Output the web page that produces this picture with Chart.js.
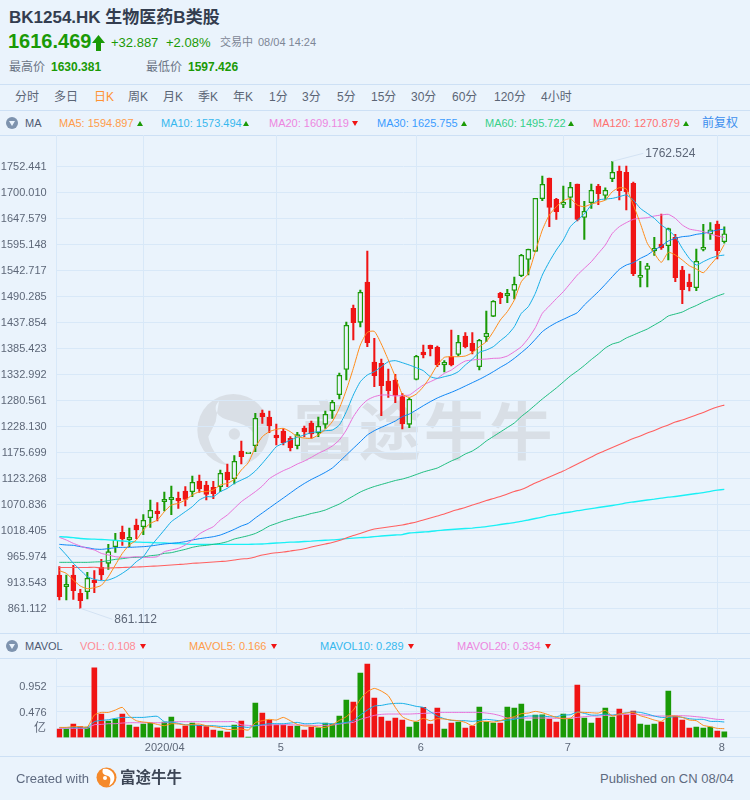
<!DOCTYPE html>
<html>
<head>
<meta charset="utf-8">
<title>BK1254.HK</title>
<script src="https://cdn.jsdelivr.net/npm/chart.js@4"></script>
<style>
  html, body { margin: 0; padding: 0; }
  body { width: 750px; height: 800px; background: #eaf3fc; position: relative; overflow: hidden;
    font-family: "Liberation Sans", "Noto Sans CJK SC", sans-serif; color: #5d6778; }
  .t { position: absolute; white-space: nowrap; line-height: 1; }
  .rule { position: absolute; left: 0; width: 750px; height: 1px; background: #cde0f5; }
  canvas { position: absolute; left: 0; }
  .tri { position: absolute; width: 0; height: 0; border-left: 3.5px solid transparent; border-right: 3.5px solid transparent; }
  .up { border-bottom: 5px solid #1a9a06; }
  .down { border-top: 5px solid #f01414; }
  .ico { position: absolute; left: 6px; width: 12px; height: 12px; border-radius: 50%; background: #7e93ae; }
  .ico:after { content: ''; position: absolute; left: 2.5px; top: 4px; border-left: 3.5px solid transparent;
    border-right: 3.5px solid transparent; border-top: 5px solid #eaf3fc; }
</style>
</head>
<body>
<svg style="position:absolute;left:195px;top:385px" width="100" height="90" viewBox="0 0 300 270">
  <circle cx="115" cy="135" r="108" fill="#d9dfe6"/>
  <path d="M72 48 C52 68 62 95 100 105 C150 118 185 130 178 175 C172 215 150 240 130 250 C88 244 50 205 40 155 L 62 110 Z" fill="#eaf3fc"/>
  <circle cx="118" cy="147" r="17" fill="#d9dfe6"/>
</svg>
<div class="t" style="left:293px;top:401px;font-size:63px;letter-spacing:2.5px;color:#d9dfe6;font-weight:700">富途牛牛</div>

<div class="t" style="left:9px;top:9px;font-size:17px;font-weight:700;color:#333d4f">BK1254.HK 生物医药B类股</div>
<div class="t" style="left:8px;top:31px;font-size:20px;font-weight:700;color:#1a9a06">1616.469</div>
<svg style="position:absolute;left:92px;top:35px" width="13" height="16" viewBox="0 0 13 16"><path d="M6.5 0 L13 8 L9 8 L9 16 L4 16 L4 8 L0 8 Z" fill="#1a9a06"/></svg>
<div class="t" style="left:111px;top:36px;font-size:13px;color:#1a9a06">+32.887</div>
<div class="t" style="left:166px;top:36px;font-size:13px;color:#1a9a06">+2.08%</div>
<div class="t" style="left:220px;top:37px;font-size:11px;color:#7d8696">交易中</div>
<div class="t" style="left:258px;top:37px;font-size:11px;color:#7d8696">08/04 14:24</div>
<div class="t" style="left:9px;top:61px;font-size:12px;color:#6a7484">最高价</div>
<div class="t" style="left:51px;top:61px;font-size:12px;font-weight:700;color:#1a9a06">1630.381</div>
<div class="t" style="left:146px;top:61px;font-size:12px;color:#6a7484">最低价</div>
<div class="t" style="left:188px;top:61px;font-size:12px;font-weight:700;color:#1a9a06">1597.426</div>

<div class="rule" style="top:84px"></div>
<div id="tabs"></div>
<div class="rule" style="top:110px"></div>

<div class="ico" style="top:117px"></div>
<div class="t" style="left:25px;top:118px;font-size:11px;color:#4e5a72">MA</div>
<div id="ma-row"></div>
<div class="t" style="left:702px;top:117px;font-size:12px;color:#3d8fee">前复权</div>
<div class="rule" style="top:135px"></div>

<canvas id="chart-main" width="750" height="498" style="top:135px"></canvas>

<div class="rule" style="top:633px"></div>
<div class="ico" style="top:640px"></div>
<div class="t" style="left:25px;top:641px;font-size:11px;color:#4e5a72">MAVOL</div>
<div id="vol-row"></div>
<div class="rule" style="top:658px"></div>

<canvas id="chart-vol" width="750" height="98" style="top:658px"></canvas>
<div class="t" style="left:34px;top:722px;font-size:12px;color:#5d6778">亿</div>

<div class="rule" style="top:756px"></div>
<div class="t" style="left:16px;top:772px;font-size:13px;color:#5e6a80">Created with</div>
<svg style="position:absolute;left:96px;top:767px" width="21" height="21" viewBox="0 0 21 21">
  <circle cx="10.5" cy="10.5" r="10" fill="#f5892a"/>
  <path d="M7 2 C5 7 9 8 12 9 C15 10 15 14 13 19 C18 16 20 11 17 6 C15 3 11 1 7 2 Z" fill="#fff"/>
  <circle cx="9" cy="11" r="2" fill="#fff"/>
</svg>
<div class="t" style="left:120px;top:770px;font-size:15.5px;font-weight:700;color:#3d4656">富途牛牛</div>
<div class="t" style="left:600px;top:772px;font-size:13px;color:#5e6a80">Published on CN 08/04</div>

<script>
const BG = '#eaf3fc', GRID = '#d8e8f8', TICK = '#5d6778';
const UP = '#1a9a06', DOWN = '#f01414';

const tabs = ['分时', '多日', '日K', '周K', '月K', '季K', '年K', '1分', '3分', '5分', '15分', '30分', '60分', '120分', '4小时'];
const tabX = [15, 54, 94, 128, 163, 198, 233, 269, 302, 337, 371, 411, 452, 494, 541];

const opens = [
  928.3, 904.7, 928.3, 891.3, 894.6, 918.2, 943.7, 951.8, 985.4, 1014.3,
  999.5, 1029.1, 1025.7, 1043.9, 1057.3, 1076.1, 1080.2, 1082.9, 1097.7, 1096.3,
  1117.8, 1109.8, 1105, 1106.4, 1136, 1122.5, 1178.3, 1172.9, 1189, 1254.9,
  1246.9, 1210.6, 1218.6, 1203.8, 1189, 1224.7, 1234.8, 1214.6, 1232.1, 1259.6,
  1291.9, 1343, 1466, 1437.8, 1519.1, 1357.8, 1355.1, 1319.5, 1321.5, 1287.9,
  1232.1, 1322.8, 1377.9, 1391.4, 1387.3, 1351.7, 1368.5, 1373.2, 1410.2, 1395.4,
  1348.4, 1408.9, 1449.9, 1496.3, 1491.5, 1502.3, 1531.9, 1564.8, 1581, 1687.2,
  1728.8, 1685.8, 1675.7, 1689.8, 1716.7, 1649.5, 1679.1, 1712.7, 1693.9, 1727.5,
  1743, 1740.3, 1718.1, 1528.5, 1544.6, 1581.6, 1595.7, 1592.4, 1609.2, 1543.3,
  1519.1, 1507.7, 1585, 1615.9, 1636.1, 1600.4];
const closes = [
  884.6, 909.4, 896.7, 876.5, 921.5, 912.8, 928.3, 975.3, 998.8, 1000.9,
  1004.2, 1019, 1038.5, 1058.7, 1051.9, 1080.8, 1084.9, 1077.5, 1080.8, 1115.1,
  1101.7, 1090.9, 1092.3, 1133.3, 1119.8, 1157.5, 1166.9, 1174.3, 1244.2, 1247.5,
  1228.7, 1204.5, 1195.1, 1185, 1211.2, 1216.6, 1212.6, 1228, 1252.2, 1276.4,
  1330.9, 1431.7, 1437.1, 1498.3, 1396.8, 1330.2, 1310, 1300, 1290.6, 1232.8,
  1282.5, 1369.2, 1371.9, 1384.7, 1351.7, 1357.1, 1351.7, 1397.4, 1388.7, 1380,
  1401.5, 1415.6, 1480.1, 1487.5, 1496.3, 1514.4, 1572.9, 1585, 1687.8, 1716.1,
  1669.7, 1660.9, 1679.8, 1710, 1645.5, 1661.6, 1704, 1697.2, 1704, 1740.3,
  1703.3, 1701.3, 1535.9, 1532.6, 1552, 1587, 1587.7, 1626.7, 1527.8, 1503.6,
  1509.7, 1560.8, 1589, 1624.6, 1582.3, 1616.469];
const highs = [
  945.1, 928.3, 947.8, 899.4, 933.6, 937, 959.9, 990.1, 1012.3, 1027.1,
  1023, 1041.2, 1049.9, 1079.5, 1074.1, 1095.6, 1107.7, 1095.6, 1106.4, 1127.9,
  1129.9, 1117.1, 1117.1, 1140, 1152.1, 1168.9, 1198.5, 1174.3, 1254.3, 1261,
  1259, 1232.7, 1223.3, 1207.2, 1215.9, 1228.7, 1238.8, 1246.9, 1259, 1280.5,
  1335.6, 1438.4, 1472.7, 1503, 1581.6, 1405.5, 1363.8, 1343.7, 1332.9, 1294.6,
  1285.8, 1371.2, 1392.1, 1392.1, 1390, 1360.5, 1422.3, 1411.6, 1416.9, 1416.9,
  1403.5, 1460.6, 1481.5, 1498.3, 1504.3, 1529.2, 1574.9, 1585.7, 1687.8, 1732.9,
  1728.8, 1687.8, 1712.7, 1720.1, 1716.7, 1681.8, 1716.7, 1716.1, 1709.3, 1762.524,
  1753, 1753, 1720.8, 1560.8, 1556.8, 1609.2, 1656.2, 1628, 1615.2, 1550.7,
  1535.2, 1585.7, 1635.4, 1638.8, 1642.1, 1630.381];
const lows = [
  877.8, 877.8, 879.2, 861.112, 879.9, 892.6, 918.2, 939.7, 974, 988.1,
  985.4, 1001.5, 1009.6, 1024.4, 1037.2, 1057.3, 1049.9, 1062.7, 1067.4, 1086.2,
  1095, 1079.5, 1082.2, 1096.3, 1106.4, 1111.8, 1152.1, 1172.9, 1177, 1234.1,
  1215.3, 1190.4, 1190.4, 1178.3, 1182.3, 1207.2, 1203.8, 1207.2, 1224, 1244.2,
  1283.2, 1321.5, 1402.1, 1428.4, 1388.7, 1308, 1249.6, 1286.5, 1275.8, 1222.7,
  1225.4, 1321.5, 1365.8, 1369.9, 1348.4, 1338, 1349.7, 1369.9, 1386, 1373.9,
  1341.6, 1398.8, 1449.2, 1475.4, 1477.4, 1484.8, 1529.9, 1533.2, 1580.3, 1683.1,
  1630.7, 1645.5, 1669, 1669, 1642.1, 1605.2, 1667.7, 1675.1, 1684.5, 1721.4,
  1684.5, 1664.3, 1531.9, 1509, 1509, 1572.9, 1585, 1563.5, 1519.8, 1475.4,
  1501, 1501.6, 1581.6, 1605.2, 1565.5, 1597.426];

const ma5 = [
  937, 931.6, 918.2, 906.1, 900.7, 902.7, 907.4, 924.9, 948.4, 971.9,
  988.8, 998.8, 1019, 1032.4, 1039.2, 1056, 1069.4, 1072.8, 1079.5, 1089.6,
  1096.3, 1096.3, 1099.7, 1109.8, 1113.1, 1121.2, 1140, 1154.8, 1185.7, 1207.2,
  1217.3, 1222, 1224, 1217.3, 1207.2, 1204.5, 1203.8, 1210.6, 1222, 1237.5,
  1264.3, 1301.3, 1345, 1392.1, 1417.6, 1419.6, 1394.1, 1361.8, 1328.2, 1293.2,
  1286.5, 1293.2, 1308, 1328.2, 1351.7, 1367.2, 1368.5, 1368.5, 1369.9, 1376.6,
  1388.7, 1398.8, 1419, 1442.5, 1459.3, 1482.8, 1519.8, 1536.6, 1580.3, 1624,
  1654.2, 1671, 1683.1, 1687.2, 1674.4, 1671, 1676.4, 1679.8, 1684.5, 1701.3,
  1709.3, 1706.7, 1674.4, 1637.4, 1597.1, 1576.9, 1558.8, 1578.9, 1573.6, 1563.5,
  1552, 1545.3, 1537.9, 1553.4, 1570.2, 1594.897];
const ma10 = [
  984, 968.6, 951.8, 938.4, 924.9, 919.5, 916.8, 918.2, 923.5, 931.7,
  941.7, 955.1, 965.2, 985.4, 1002.2, 1019, 1035.8, 1045.9, 1056, 1066.1,
  1079.5, 1086.2, 1086.2, 1096.3, 1103, 1113.1, 1119.8, 1126.6, 1138, 1153.4,
  1170.2, 1187, 1193.8, 1200.5, 1205.9, 1210.6, 1215.3, 1217.3, 1219.3, 1220.6,
  1230.7, 1257.6, 1291.2, 1318.1, 1331.6, 1338.3, 1348.4, 1358.4, 1360.5, 1356.4,
  1351.7, 1346.3, 1340.3, 1328.2, 1324.8, 1328.2, 1331.6, 1338.3, 1351.7, 1363.2,
  1377.3, 1382, 1388.7, 1400.8, 1412.2, 1429, 1455.9, 1469.4, 1496.3, 1533.2,
  1560.1, 1583.6, 1603.8, 1630.7, 1644.1, 1656.2, 1674.4, 1684.5, 1686.5, 1687.8,
  1691.2, 1694.6, 1684.5, 1667.7, 1657.6, 1647.5, 1634.1, 1624, 1610.5, 1587,
  1566.8, 1553.4, 1560.1, 1566.8, 1571.5, 1573.494];
const ma20 = [
  1004.2, 998.8, 992.1, 986.7, 982, 978.7, 971.9, 968.6, 965.2, 963.9,
  963.9, 965.2, 963.9, 963.9, 965.2, 975.3, 978.7, 982, 988.8, 998.8,
  1010.9, 1019, 1025.7, 1039.2, 1049.3, 1062.7, 1076.1, 1086.2, 1096.3, 1107.7,
  1122.5, 1131.2, 1138.6, 1144.7, 1152.1, 1158.1, 1165.5, 1173.6, 1180.3, 1188.4,
  1200.5, 1220.6, 1247.5, 1267.7, 1281.1, 1287.9, 1291.2, 1291.2, 1289.2, 1290.5,
  1291.2, 1301.3, 1311.4, 1318.1, 1324.8, 1334.9, 1341.6, 1351.7, 1359.8, 1361.8,
  1363.2, 1363.8, 1365.2, 1365.8, 1369.9, 1378.6, 1388.7, 1405.5, 1427, 1455.9,
  1470.7, 1485.5, 1499.6, 1516.4, 1533.2, 1546.7, 1560.1, 1576.9, 1593.7, 1617.2,
  1630.7, 1638.8, 1645.5, 1647.5, 1648.8, 1652.2, 1654.2, 1655.6, 1647.5, 1634.1,
  1626, 1623.3, 1620.6, 1615.9, 1611.9, 1609.119];
const ma30 = [
  990.1, 988.8, 988.1, 985.4, 983.4, 980.7, 980, 981.4, 983.4, 984,
  984, 984.7, 985.4, 986.7, 988.8, 990.8, 992.1, 993.5, 995.5, 998.8,
  1001.5, 1003.5, 1005.5, 1008.9, 1014.3, 1020.4, 1027.1, 1032.4, 1043.2, 1053.3,
  1063.4, 1073.5, 1083.5, 1093.6, 1103.7, 1112.8, 1120.9, 1127.9, 1135.3, 1144,
  1156.8, 1170.2, 1183.7, 1197.1, 1210.6, 1219.3, 1226, 1232.1, 1238.8, 1247.5,
  1252.9, 1261, 1269.7, 1277.8, 1285.2, 1291.2, 1296.6, 1302.7, 1309.4, 1316.1,
  1322.8, 1330.2, 1338.3, 1347, 1355.1, 1365.2, 1376.6, 1388.7, 1403.5, 1419,
  1429, 1437.1, 1443.8, 1450.5, 1457.3, 1472.7, 1486.2, 1499.6, 1514.4, 1529.9,
  1544.6, 1553.4, 1558.1, 1566.8, 1573.6, 1583.6, 1591.7, 1601.8, 1607.2, 1610.5,
  1611.9, 1615.2, 1617.2, 1620.6, 1624, 1625.755];
const ma60 = [
  953.8, 953.8, 953.8, 953.8, 953.8, 954.5, 955.1, 957.2, 959.8, 961.2,
  963.2, 963.9, 964.6, 967.2, 968.6, 971.9, 973.3, 976.7, 980, 984,
  986.7, 988.1, 990.1, 992.1, 995.5, 1000.9, 1004.2, 1007.6, 1012, 1019,
  1027.1, 1032.1, 1037.2, 1041.2, 1045.2, 1048.3, 1052.3, 1055.3, 1059.3, 1065.4,
  1071.4, 1079.5, 1087.6, 1095.6, 1101.7, 1106.7, 1110.8, 1114.8, 1118.8, 1121.8,
  1125.9, 1130.9, 1136, 1140, 1144, 1151.1, 1158.2, 1164.2, 1172.3, 1178.3,
  1187.4, 1198.5, 1207.6, 1216.6, 1225.7, 1234.8, 1247.9, 1259, 1271.1, 1283.2,
  1294.3, 1305.4, 1317.5, 1329.6, 1339.7, 1350.8, 1362.8, 1373.9, 1386, 1394.1,
  1398.1, 1406.2, 1412.2, 1418.3, 1424.3, 1432.4, 1440.5, 1450.6, 1454.6, 1458.6,
  1465.7, 1471.7, 1478.8, 1484.8, 1490.9, 1495.722];
const ma120 = [
  943.4, 943.4, 943.4, 943.4, 943.4, 943.8, 942.4, 942.4, 942.8, 943.4,
  944, 944.4, 945, 945.8, 946.4, 947.4, 948.4, 949.4, 950.4, 951.9,
  952.5, 953.5, 954.5, 955.5, 956.5, 958.5, 960.5, 961.5, 964.6, 968.6,
  971.2, 973, 974.6, 976.7, 978.7, 981.3, 984.7, 987.8, 990.8, 993.8,
  997.8, 1002.9, 1007.9, 1012, 1017, 1021, 1023, 1025.1, 1027.1, 1029.1,
  1032.1, 1035.1, 1039.2, 1043.2, 1047.2, 1051.3, 1056.3, 1060.4, 1064.4, 1069.4,
  1073.5, 1078.5, 1082.5, 1086.6, 1091.6, 1096.7, 1100.7, 1106.8, 1113.8, 1119.8,
  1125.9, 1131.9, 1138, 1145, 1152.1, 1159.2, 1166.2, 1173.3, 1179.3, 1185.4,
  1191.4, 1197.5, 1203.5, 1208.6, 1214.6, 1219.7, 1225.7, 1230.8, 1236.8, 1240.8,
  1245.9, 1250.9, 1256, 1262, 1267.1, 1270.879];
const ma250 = [
  1005.5, 1004.9, 1003.5, 1001.9, 1000.9, 1000.5, 999.9, 998.9, 997.9, 996.8,
  995.8, 994.8, 994.2, 993.8, 993.2, 992.8, 992.2, 991.4, 990.8, 990.2,
  990.2, 990.2, 990.2, 990.2, 990.2, 990.2, 990.2, 990.2, 990.4, 990.8,
  991.8, 992.8, 993.4, 994.4, 994.8, 995.8, 996.4, 997.4, 998.3, 998.9,
  1000.3, 1001.5, 1002.5, 1003.5, 1004.3, 1005.5, 1006.9, 1007.9, 1008.9, 1009.9,
  1013, 1014, 1015, 1016, 1017.6, 1019, 1020, 1021, 1022, 1023,
  1024.4, 1025.7, 1027.7, 1030.1, 1032.1, 1034.1, 1036.6, 1039.2, 1042.2, 1045.2,
  1048.3, 1050.7, 1053.3, 1055.3, 1057.9, 1059.9, 1062, 1064.4, 1066.4, 1068.4,
  1070.8, 1073.5, 1075.5, 1077.5, 1079.5, 1081.1, 1083.1, 1085.2, 1086.6, 1088.6,
  1090.6, 1092.6, 1094.6, 1097.1, 1099.3, 1101.1];

const volume = [
  .160, .160, .252, .203, .196, 1.289, .436, .307, .344, .436,
  .233, .196, .252, .270, .184, .288, .380, .160, .215, .270,
  .227, .203, .141, .123, .104, .233, .307, .003, .638, .454,
  .325, .233, .233, .215, .215, .141, .196, .184, .270, .252,
  .399, .693, .657, 1.191, 1.356, .730, .380, .307, .362, .325,
  .196, .288, .558, .252, .546, .160, .270, .288, .178, .215,
  .565, .288, .270, .270, .565, .546, .620, .307, .417, .423,
  .344, .288, .436, .344, .970, .362, .270, .362, .546, .380,
  .528, .423, .491, .252, .233, .252, .288, .859, .399, .325,
  .178, .196, .178, .196, .123, .108];
const mavol5 = [
  .190, .190, .203, .203, .196, .417, .466, .466, .509, .558,
  .399, .313, .288, .276, .245, .221, .258, .252, .233, .245,
  .252, .221, .203, .184, .153, .153, .160, .141, .276, .313,
  .338, .325, .374, .313, .245, .215, .215, .196, .190, .239,
  .319, .387, .509, .706, .847, .908, .859, .773, .558, .387,
  .325, .301, .356, .313, .350, .344, .325, .313, .282, .221,
  .295, .301, .288, .313, .356, .387, .442, .454, .485, .460,
  .417, .374, .350, .356, .466, .466, .460, .454, .503, .399,
  .436, .454, .466, .405, .368, .325, .301, .393, .399, .374,
  .325, .313, .227, .203, .172, .166];
const mavol10 = [
  .184, .184, .184, .184, .184, .295, .319, .331, .356, .374,
  .374, .374, .374, .387, .393, .295, .288, .264, .239, .233,
  .227, .221, .221, .209, .209, .209, .203, .190, .221, .239,
  .258, .258, .258, .270, .282, .258, .258, .270, .258, .258,
  .264, .282, .313, .417, .509, .583, .595, .620, .632, .632,
  .608, .577, .558, .479, .399, .350, .319, .313, .313, .301,
  .319, .338, .325, .313, .325, .338, .374, .399, .399, .399,
  .387, .387, .417, .423, .473, .448, .417, .417, .436, .417,
  .436, .460, .473, .466, .436, .399, .374, .374, .387, .374,
  .350, .338, .338, .301, .301, .289];
const mavol20 = [
  .172, .172, .172, .172, .172, .239, .245, .258, .258, .270,
  .276, .276, .276, .276, .276, .276, .288, .295, .295, .295,
  .295, .295, .295, .295, .295, .295, .239, .227, .221, .227,
  .233, .239, .239, .239, .233, .233, .227, .227, .227, .233,
  .252, .270, .282, .338, .374, .411, .430, .436, .436, .436,
  .436, .442, .448, .454, .466, .466, .466, .466, .466, .466,
  .466, .454, .436, .405, .362, .362, .362, .362, .362, .362,
  .362, .356, .356, .362, .374, .387, .399, .399, .411, .411,
  .423, .430, .430, .423, .411, .399, .399, .399, .405, .405,
  .399, .387, .374, .356, .338, .334];

const priceTicks = [861.112, 913.543, 965.974, 1018.405, 1070.836, 1123.268, 1175.699, 1228.13, 1280.561,
  1332.992, 1385.423, 1437.854, 1490.285, 1542.717, 1595.148, 1647.579, 1700.01, 1752.441];
const volTicks = [0, 0.476, 0.952];
const monthIndex = [12, 31, 51, 72, 94];
const monthLabels = ['2020/04', '5', '6', '7', '8'];
const days = opens.map((_, i) => i);

const maLegend = [
  { text: 'MA5: 1594.897', x: 59, tri: 136.5, dir: 'up', color: '#ff9c4a' },
  { text: 'MA10: 1573.494', x: 161, tri: 243, dir: 'up', color: '#37b8ee' },
  { text: 'MA20: 1609.119', x: 269, tri: 352, dir: 'down', color: '#ed86e0' },
  { text: 'MA30: 1625.755', x: 377, tri: 460.5, dir: 'up', color: '#3b9cff' },
  { text: 'MA60: 1495.722', x: 485, tri: 568, dir: 'up', color: '#37d08a' },
  { text: 'MA120: 1270.879', x: 593, tri: 682.5, dir: 'up', color: '#ff7070' },
];
const volLegend = [
  { text: 'VOL: 0.108', x: 80, tri: 139.5, dir: 'down', color: '#ff8b94' },
  { text: 'MAVOL5: 0.166', x: 189, tri: 270.5, dir: 'down', color: '#ff9c4a' },
  { text: 'MAVOL10: 0.289', x: 320, tri: 407.5, dir: 'down', color: '#37b8ee' },
  { text: 'MAVOL20: 0.334', x: 457, tri: 544.5, dir: 'down', color: '#ed86e0' },
];

document.getElementById('tabs').innerHTML = tabs.map((t, i) =>
  `<div class="t" style="left:${tabX[i]}px;top:91px;font-size:12px;color:${t === '日K' ? '#ff9232' : '#5b6575'}">${t}</div>`).join('');

function legendRow(id, items, top) {
  document.getElementById(id).innerHTML = items.map(d =>
    `<div class="t" style="left:${d.x}px;top:${top}px;font-size:11px;color:${d.color}">${d.text}</div>` +
    `<div class="tri ${d.dir}" style="left:${d.tri}px;top:${top + 3}px"></div>`).join('');
}
legendRow('ma-row', maLegend, 118);
legendRow('vol-row', volLegend, 641);

const isUp = i => closes[i] >= opens[i];
const candleColor = days.map(i => isUp(i) ? UP : DOWN);

function lineSet(data, color, order, width) {
  return { type: 'line', data, borderColor: color, borderWidth: width || 1, pointRadius: 0, tension: 0.2, order };
}

// chart.js leaves room for half a tick label, the panels here run edge to edge
function noPad(s) { s.paddingTop = s.paddingBottom = s.paddingLeft = s.paddingRight = 0; }

const xAxis = {
  type: 'linear', min: -0.376, max: 98.67, offset: false,
  afterBuildTicks: s => { s.ticks = monthIndex.map(v => ({ value: v })); },
  grid: { color: GRID, drawTicks: false, offset: false },
  border: { display: false },
};

// marks the extreme high and low with a thin leader line
const extremes = {
  id: 'extremes',
  afterDatasetsDraw(chart) {
    const { ctx, scales: { x, y } } = chart;
    const hi = highs.indexOf(Math.max(...highs)), lo = lows.indexOf(Math.min(...lows));
    const marks = [[hi, highs[hi], 31, -8], [lo, lows[lo], 32, 11]];
    ctx.save();
    ctx.font = '12px "Liberation Sans"';
    ctx.textBaseline = 'middle';
    marks.forEach(([i, v, dx, dy]) => {
      const px = x.getPixelForValue(i), py = y.getPixelForValue(v);
      ctx.strokeStyle = '#d3e2f3';
      ctx.lineWidth = 1;
      ctx.beginPath(); ctx.moveTo(px, py); ctx.lineTo(px + dx, py + dy); ctx.stroke();
      ctx.fillStyle = TICK;
      ctx.fillText(v.toFixed(3), px + dx + 2, py + dy);
    });
    ctx.restore();
  },
};

new Chart(document.getElementById('chart-main'), {
  type: 'bar',
  data: {
    labels: days,
    datasets: [
      { data: highs.map((h, i) => [lows[i], h]), backgroundColor: candleColor, barThickness: 1.4, grouped: false, order: 10 },
      { data: opens.map((o, i) => [o, closes[i]]), backgroundColor: days.map(i => isUp(i) ? BG : DOWN),
        borderColor: candleColor, borderWidth: 1.3, borderSkipped: false, barThickness: 5, minBarLength: 1.5, grouped: false, order: 9 },
      lineSet(ma250, '#1af0f5', 7, 1.3),
      lineSet(ma120, '#ff6060', 6, 1.1),
      lineSet(ma60, '#1cbd7e', 5),
      lineSet(ma30, '#0a84f5', 4),
      lineSet(ma20, '#e870d8', 3),
      lineSet(ma10, '#14aee6', 2),
      lineSet(ma5, '#ff8c1a', 1),
    ],
  },
  options: {
    responsive: false, animation: false, events: [],
    plugins: { legend: { display: false }, tooltip: { enabled: false } },
    layout: { padding: 0 },
    scales: {
      x: { ...xAxis, ticks: { display: false }, afterFit: s => { s.height = 0; noPad(s); } },
      y: {
        min: 811.3, max: 1815.6,
        afterBuildTicks: s => { s.ticks = priceTicks.map(v => ({ value: v })); },
        afterFit: s => { s.width = 56.7; noPad(s); },
        ticks: { color: TICK, font: { family: 'Liberation Sans', size: 11 }, padding: 10, labelOffset: 1, callback: v => v.toFixed(3) },
        grid: { color: GRID, drawTicks: false },
        border: { color: GRID },
      },
    },
  },
  plugins: [extremes],
});

new Chart(document.getElementById('chart-vol'), {
  type: 'bar',
  data: {
    labels: days,
    datasets: [
      { data: volume, backgroundColor: candleColor, barThickness: 5, order: 4 },
      lineSet(mavol20, '#e870d8', 3),
      lineSet(mavol10, '#14aee6', 2),
      lineSet(mavol5, '#ff8c1a', 1),
    ],
  },
  options: {
    responsive: false, animation: false, events: [],
    plugins: { legend: { display: false }, tooltip: { enabled: false } },
    layout: { padding: 0 },
    scales: {
      x: {
        ...xAxis,
        afterFit: s => { s.height = 18.3; noPad(s); },
        ticks: {
          color: TICK, font: { family: 'Liberation Sans', size: 11 }, padding: 4, align: 'start', labelOffset: 1.5,
          maxRotation: 0, autoSkip: false, callback: v => monthLabels[monthIndex.indexOf(v)],
        },
      },
      y: {
        min: 0, max: 1.468,
        afterBuildTicks: s => { s.ticks = volTicks.map(v => ({ value: v })); },
        afterFit: s => { s.width = 56.7; noPad(s); },
        ticks: { color: TICK, font: { family: 'Liberation Sans', size: 11 }, padding: 10, labelOffset: 1, callback: v => v ? v.toFixed(3) : '' },
        grid: { color: GRID, drawTicks: false },
        border: { color: GRID },
      },
    },
  },
});
</script>
</body>
</html>
